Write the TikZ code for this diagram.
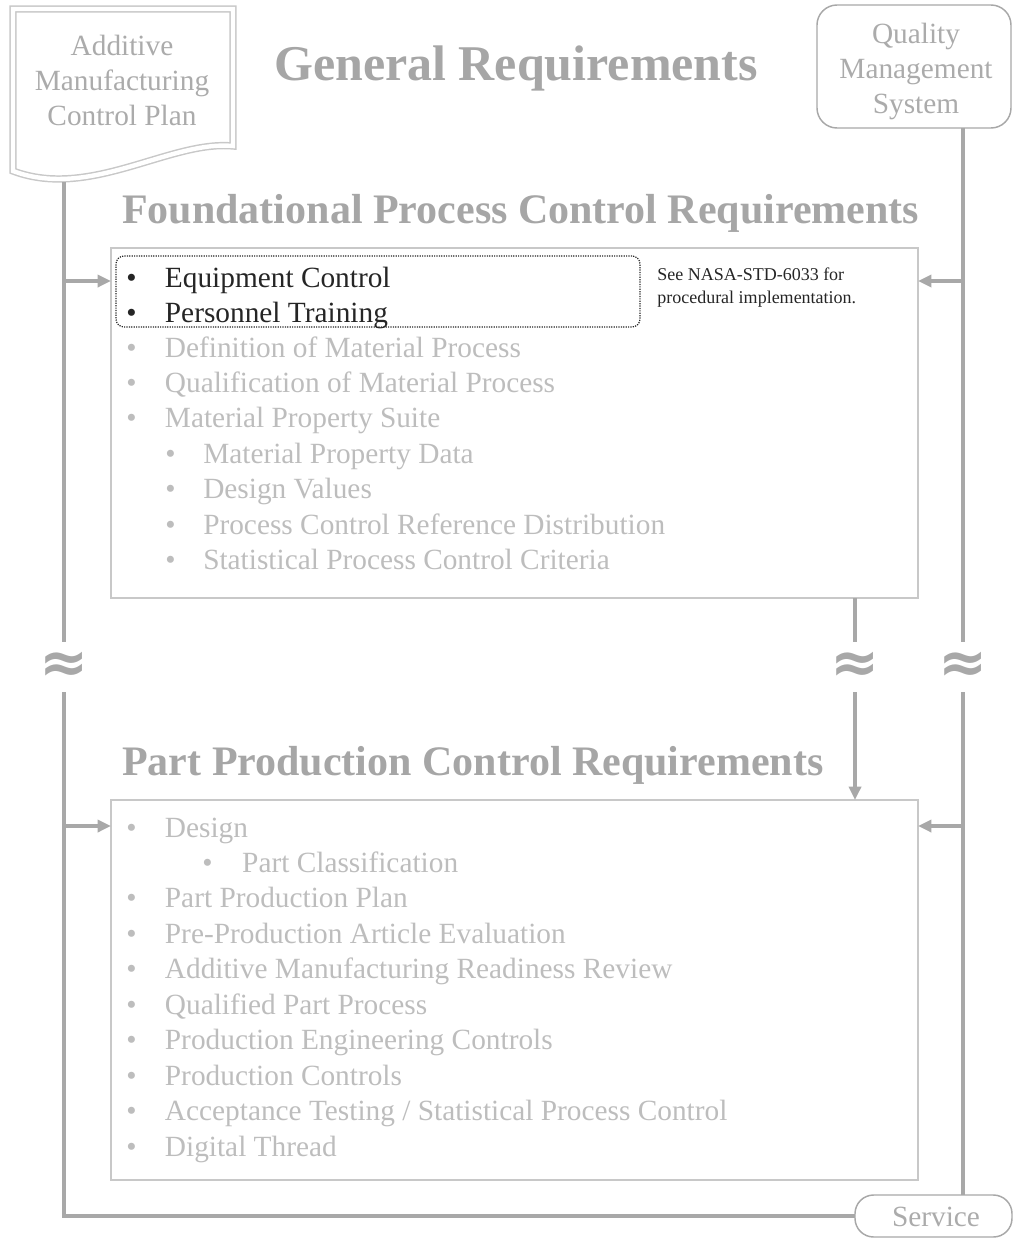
\documentclass[tikz,border=0pt]{standalone}
\usepackage{fontspec}
\setmainfont{Liberation Serif}
\newfontfamily\symfont{DejaVu Sans}
\usepackage{xcolor}
\usetikzlibrary{arrows.meta}

\definecolor{lnGray}{HTML}{A8A8A8}
\definecolor{boxGray}{HTML}{C8C8C8}
\definecolor{headGray}{HTML}{A6A6A6}
\definecolor{txtGray}{HTML}{BDBDBD}
\definecolor{lblGray}{HTML}{ABABAB}
\definecolor{inkBlack}{HTML}{252525}

\newcommand{\bul}{\makebox[29pt][l]{\textbullet}}

\begin{document}
\begin{tikzpicture}[x=0.75pt, y=-0.75pt,
    conn/.style={draw=lnGray, line width=2.5pt},
    arr/.style={conn, -{Triangle[length=10pt, width=9pt]}},
    frame/.style={draw=boxGray, line width=1.1pt, inner sep=0pt, outer sep=0pt},
    term/.style={draw=lnGray, line width=1.1pt, inner sep=0pt, outer sep=0pt},
    lbl/.style={inner sep=0pt, text=lblGray, align=center, font=\fontsize{22}{26.25}\selectfont},
    item/.style={anchor=base west, inner sep=0pt, text=txtGray, font=\fontsize{22}{26}\selectfont},
    heading/.style={anchor=base west, inner sep=0pt, text=headGray, font=\fontsize{31.5}{36}\selectfont\bfseries},
    brk/.style={inner sep=0pt, outer sep=0pt, minimum width=30pt, minimum height=37.5pt, text=lnGray, font=\symfont\fontsize{44}{44}\selectfont\bfseries}]

    \useasboundingbox (0,0) rectangle (1013,1239);

    % documents and systems
    \draw [draw=boxGray, line width=1.1pt, double, double distance=3.3pt]
        (13,9) -- (233,9) -- (233,146) .. controls (170,140) and (90,200) .. (13,171) -- cycle;
    \node[lbl] (amcp) at (122,80) {Additive\\Manufacturing\\Control Plan};
    \coordinate (amcpFoot) at (64,182);

    \node[term, rounded corners=15pt, minimum width=145.5pt, minimum height=92.25pt] (qms) at (914,66.5) {};
    \node[lbl] (qmsTxt) at (916,71) {Quality\\Management\\System};
    \node[term, rounded corners=14pt, minimum width=117.75pt, minimum height=31.5pt] (svc) at (933.5,1216) {};
    \node[lbl] (svcTxt) at (936,1217) {Service};

    \node[inner sep=0pt, anchor=base, text=headGray, font=\fontsize{37.5}{42}\selectfont\bfseries] (genReq) at (516,80) {General Requirements};

    % foundational process control
    \node[heading] (fndHead) at (122,223) {Foundational Process Control Requirements};
    \node[frame, minimum width=605.25pt, minimum height=262.5pt] (box1) at (514.5,423) {};
    \node[draw=inkBlack, line width=0.9pt, dash pattern=on 0.9pt off 0.9pt, rounded corners=6pt,
          inner sep=0pt, minimum width=393pt, minimum height=53.25pt] (focus) at (378,291.5) {};
    \node[anchor=north west, inner sep=0pt, align=left, text=inkBlack, font=\fontsize{13.5}{17}\selectfont] (seeStd) at (657,268)
        {See NASA-STD-6033 for\\procedural implementation.};

    \node[item, text=inkBlack] (eqCtl) at (126,287) {\bul Equipment Control};
    \node[item, text=inkBlack] (perTrn) at (126,322) {\bul Personnel Training};
    \node[item] (defMat) at (126,357) {\bul Definition of Material Process};
    \node[item] (qualMat) at (126,392) {\bul Qualification of Material Process};
    \node[item] (propSuite) at (126,427) {\bul Material Property Suite};
    \node[item] (propData) at (165,463) {\makebox[28.5pt][l]{\textbullet}Material Property Data};
    \node[item] (desVal) at (165,498) {\makebox[28.5pt][l]{\textbullet}Design Values};
    \node[item] (pcrd) at (165,534) {\makebox[28.5pt][l]{\textbullet}Process Control Reference Distribution};
    \node[item] (spcc) at (165,569) {\makebox[28.5pt][l]{\textbullet}Statistical Process Control Criteria};

    % part production control
    \node[heading] (ppHead) at (122,775) {Part Production Control Requirements};
    \node[frame, minimum width=605.25pt, minimum height=285pt] (box2) at (514.5,990) {};

    \node[item] (design) at (126,837) {\bul Design};
    \node[item] (partCls) at (202,872) {\makebox[30pt][l]{\textbullet}Part Classification};
    \node[item] (ppPlan) at (126,907) {\bul Part Production Plan};
    \node[item] (preProd) at (126,943) {\bul Pre-Production Article Evaluation};
    \node[item] (amrr) at (126,978) {\bul Additive Manufacturing Readiness Review};
    \node[item] (qpp) at (126,1014) {\bul Qualified Part Process};
    \node[item] (prodEng) at (126,1049) {\bul Production Engineering Controls};
    \node[item] (prodCtl) at (126,1085) {\bul Production Controls};
    \node[item] (accTest) at (126,1120) {\bul Acceptance Testing / Statistical Process Control};
    \node[item] (digThr) at (126,1156) {\bul Digital Thread};

    % breaks in the flow lines
    \node[brk] (brkL) at (64,667) {≈};
    \node[brk] (brkM) at (855,667) {≈};
    \node[brk] (brkR) at (963,667) {≈};

    \coordinate (tapL1) at (64,281);
    \coordinate (tapL2) at (64,826);
    \coordinate (tapR1) at (963,281);
    \coordinate (tapR2) at (963,826);

    \draw[conn] (amcpFoot) -- (brkL);
    \draw[conn] (brkL) |- (svc);
    \draw[conn] (qms.south -| brkR) -- (brkR);
    \draw[conn] (brkR) -- (brkR |- svc.north);
    \draw[conn] (box1.south -| brkM) -- (brkM);
    \draw[arr] (brkM) -- (brkM |- box2.north);

    \draw[arr] (tapL1) -- (tapL1 -| box1.west);
    \draw[arr] (tapL2) -- (tapL2 -| box2.west);
    \draw[arr] (tapR1) -- (tapR1 -| box1.east);
    \draw[arr] (tapR2) -- (tapR2 -| box2.east);
\end{tikzpicture}
\end{document}
